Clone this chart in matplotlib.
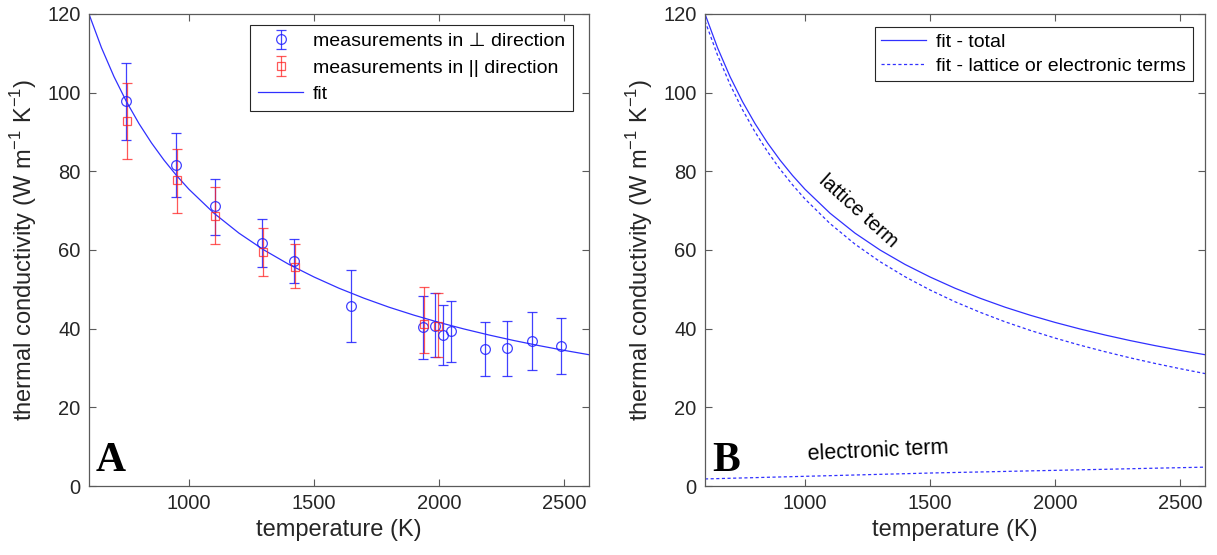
import matplotlib
matplotlib.use("Agg")
import matplotlib.pyplot as plt

plt.rcParams['font.family'] = ['Liberation Sans', 'DejaVu Sans']
plt.rcParams['mathtext.fontset'] = 'custom'
plt.rcParams['mathtext.rm'] = 'Liberation Sans'

# ---- data: measurements in perpendicular direction ----
perp_T = [750, 950, 1104, 1294, 1421, 1650, 1937, 1984, 2017, 2047, 2184, 2271, 2373, 2487]
perp_k = [97.9, 81.6, 71.2, 61.9, 57.3, 45.8, 40.3, 40.8, 38.4, 39.4, 34.9, 35.1, 36.9, 35.7]
perp_lo = [88.0, 73.4, 63.8, 55.6, 51.5, 36.7, 32.2, 32.7, 30.8, 31.4, 28.0, 28.0, 29.4, 28.5]
perp_hi = [107.5, 89.7, 78.0, 68.0, 62.8, 54.8, 48.4, 49.0, 46.0, 47.1, 41.8, 42.0, 44.2, 42.8]

# ---- data: measurements in parallel direction ----
par_T = [752, 953, 1105, 1295, 1423, 1939, 1996]
par_k = [92.8, 77.8, 68.6, 59.4, 55.6, 41.2, 40.8]
par_lo = [83.1, 69.5, 61.5, 53.4, 50.3, 33.7, 32.7]
par_hi = [102.5, 85.6, 75.9, 65.5, 61.5, 50.5, 49.0]

# ---- fit curves ----
fit_T = [600, 650, 700, 750, 800, 850, 900, 950, 1000, 1100, 1200, 1300, 1400,
         1500, 1600, 1700, 1800, 1900, 2000, 2100, 2200, 2300, 2400, 2500, 2600]
fit_total = [120.0, 111.43, 104.08, 97.71, 92.14, 87.23, 82.86, 78.95, 75.43, 69.35,
             64.28, 60.00, 56.33, 53.14, 50.28, 47.74, 45.46, 43.43, 41.59, 39.92,
             38.39, 36.98, 35.69, 34.49, 33.38]
fit_elec = [1.80, 1.88, 1.97, 2.05, 2.13, 2.22, 2.30, 2.38, 2.47, 2.63, 2.80, 2.97, 3.13,
            3.30, 3.44, 3.57, 3.71, 3.85, 3.98, 4.12, 4.25, 4.39, 4.53, 4.66, 4.80]
fit_lattice = [118.20, 109.55, 102.11, 95.66, 90.01, 85.01, 80.56, 76.57, 72.96, 66.72,
               61.48, 57.03, 53.20, 49.84, 46.84, 44.17, 41.75, 39.58, 37.61, 35.80,
               34.14, 32.59, 31.16, 29.83, 28.58]

x_ticks = [1000, 1500, 2000, 2500]
y_ticks = [0, 20, 40, 60, 80, 100, 120]

TXT = '#262626'
AX = '#5a5a5a'

fig = plt.figure(figsize=(12.17, 5.55), dpi=100)
axA = fig.add_axes([0.0731, 0.1243, 0.4109, 0.8505])
axB = fig.add_axes([0.5793, 0.1243, 0.4109, 0.8505])

ylabel = 'thermal conductivity (W m$^{-1}$ K$^{-1}$)'

for ax in (axA, axB):
    ax.set_xlim(600, 2600)
    ax.set_ylim(0, 120)
    ax.set_xticks(x_ticks)
    ax.set_yticks(y_ticks)
    ax.tick_params(direction='in', length=5, width=0.8, top=True, right=True,
                   labelsize=14.5, colors=AX, labelcolor=TXT, pad=6)
    for s in ax.spines.values():
        s.set_color(AX)
        s.set_linewidth(0.9)
    ax.set_xlabel('temperature (K)', fontsize=17, color=TXT, labelpad=4)
    ax.set_ylabel(ylabel, fontsize=17, color=TXT, labelpad=6)

# ---- panel A ----
perp_err = [[k - lo for k, lo in zip(perp_k, perp_lo)], [hi - k for k, hi in zip(perp_k, perp_hi)]]
par_err = [[k - lo for k, lo in zip(par_k, par_lo)], [hi - k for k, hi in zip(par_k, par_hi)]]

h1 = axA.errorbar(perp_T, perp_k, yerr=perp_err, fmt='o', color='#2020ff', mfc='none',
                  ms=7, mew=0.9, elinewidth=0.9, capsize=3.8, capthick=0.9, alpha=0.85,
                  label='measurements in \u22a5 direction')
h2 = axA.errorbar(par_T, par_k, yerr=par_err, fmt='s', color='#ff2020', mfc='none',
                  ms=6, mew=0.9, elinewidth=0.9, capsize=3.8, capthick=0.9, alpha=0.75,
                  label='measurements in || direction')
h3, = axA.plot(fit_T, fit_total, '-', color='#3030ff', lw=0.9, label='fit')

legA = axA.legend(handles=[h1, h2, h3], loc='upper right', bbox_to_anchor=(0.967, 0.977),
                  borderaxespad=0, fontsize=14, fancybox=False, framealpha=1, edgecolor=TXT,
                  handlelength=2.3, handletextpad=0.5, borderpad=0.4, labelspacing=0.45)
legA.get_frame().set_linewidth(0.8)

axA.text(628, 3.9, 'A', fontsize=30, fontweight='bold', family='Liberation Serif',
         color='black', ha='left', va='baseline')

# ---- panel B ----
axB.plot(fit_T, fit_total, '-', color='#3030ff', lw=0.9, label='fit - total')
axB.plot(fit_T, fit_lattice, '--', color='#3030ff', lw=0.9, dashes=(2.5, 2),
         label='fit - lattice or electronic terms')
axB.plot(fit_T, fit_elec, '--', color='#3030ff', lw=0.9, dashes=(2.5, 2))

legB = axB.legend(loc='upper right', bbox_to_anchor=(0.975, 0.973), borderaxespad=0,
                  fontsize=14, fancybox=False, framealpha=1, edgecolor=TXT,
                  handlelength=2.3, handletextpad=0.5, borderpad=0.35, labelspacing=0.3)
legB.get_frame().set_linewidth(0.8)

axB.text(1212, 70.0, 'lattice term', fontsize=14.5, rotation=-42, rotation_mode='anchor',
         ha='center', va='center', color='black')
axB.text(1291, 8.8, 'electronic term', fontsize=15.5, rotation=2.7, rotation_mode='anchor',
         ha='center', va='center', color='black')
axB.text(628, 3.9, 'B', fontsize=30, fontweight='bold', family='Liberation Serif',
         color='black', ha='left', va='baseline')

fig.savefig('out.png', dpi=100)
